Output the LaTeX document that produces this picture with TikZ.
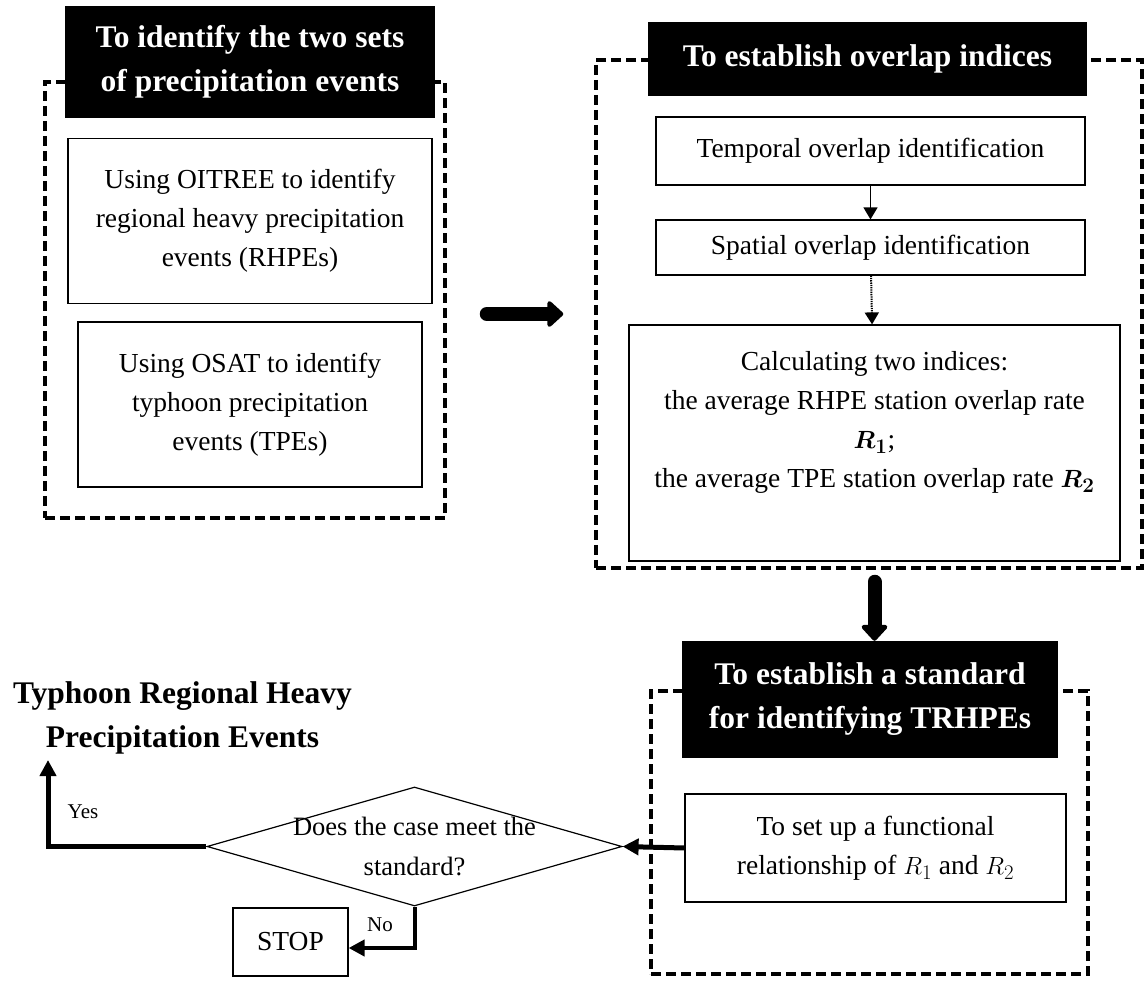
\documentclass[tikz,border=0pt]{standalone}
\usepackage{fontspec}
\setmainfont{Liberation Serif}
\usepackage{amsmath}
\usetikzlibrary{
  positioning,
  arrows.meta,
  shapes.geometric
}

\begin{document}
\begin{tikzpicture}[
  x=1pt, y=-1pt,
  frame/.style={draw, line width=3.5pt, dash pattern=on 10pt off 5pt, inner sep=0pt},
  head/.style={fill=black, text=white, align=center, inner sep=0pt,
               font=\fontsize{31.5}{44}\selectfont\bfseries},
  box/.style={draw, line width=1.2pt, align=center, inner sep=0pt,
              font=\fontsize{27.5}{39}\selectfont},
  bigarrow/.style={line width=14pt, line cap=round, -{Triangle[length=17pt,width=30pt,round]}},
  link/.style={line width=1.3pt, -{Triangle[length=12pt,width=14pt]}},
  flow/.style={line width=5pt, -{Triangle[length=16pt,width=16pt]}}
]
  \useasboundingbox (0,0) rectangle (1144,981);

  % identify the two sets
  \node[frame, minimum width=400pt, minimum height=436pt] (setA) at (245,300) {};
  \node[head, minimum width=370pt, minimum height=112pt] (headA) at (250,62)
    {To identify the two sets\\of precipitation events};
  \node[box, minimum width=364pt, minimum height=165pt] (rhpe) at (250,221)
    {Using OITREE to identify\\regional heavy precipitation\\events (RHPEs)};
  \node[box, minimum width=344pt, minimum height=165pt] (tpe) at (250,404.5)
    {Using OSAT to identify\\typhoon precipitation\\events (TPEs)};

  % overlap indices
  \node[frame, minimum width=546pt, minimum height=508pt] (setB) at (869,314) {};
  \node[head, minimum width=439pt, minimum height=74pt] (headB) at (867.5,59)
    {To establish overlap indices};
  \node[box, minimum width=429pt, minimum height=68pt] (temporal) at (870.5,151)
    {Temporal overlap identification};
  \node[box, minimum width=429pt, minimum height=55pt] (spatial) at (870.5,247.5)
    {Spatial overlap identification};
  \node[box, minimum width=491pt, minimum height=236pt] (calc) at (874.5,443)
    {Calculating two indices:\\the average RHPE station overlap rate\\$\boldsymbol{R_1}$;\\
     the average TPE station overlap rate $\boldsymbol{R_2}$\\[8pt]};

  % standard
  \node[frame, minimum width=437pt, minimum height=283pt] (setC) at (869.5,832.5) {};
  \node[head, minimum width=376pt, minimum height=117pt] (headC) at (870,699.5)
    {To establish a standard\\for identifying TRHPEs};
  \node[box, minimum width=381pt, minimum height=108pt] (func) at (875.5,848)
    {To set up a functional\\relationship of $R_1$ and $R_2$};

  % decision
  \node[diamond, draw, line width=1.2pt, inner sep=0pt, minimum width=415pt,
        minimum height=119pt] (decide) at (414.5,846.5) {};
  \node[align=center, font=\fontsize{26.5}{40}\selectfont] (ask) at (decide.center)
    {Does the case meet the\\standard?};
  \node[box, minimum width=115pt, minimum height=68pt] (stop) at (290.5,942) {STOP};
  \node[align=center, font=\fontsize{31.5}{44}\selectfont\bfseries, anchor=south] (trhpe)
    at (182.5,758) {Typhoon Regional Heavy\\Precipitation Events};
  \coordinate (yesend) at (48,760);
  \node[font=\fontsize{21}{24}\selectfont] (yes) at (83,812) {Yes};
  \node[font=\fontsize{21}{24}\selectfont] (no) at (380,925) {No};

  \draw[bigarrow, shorten <=40pt, shorten >=31pt] (setB.west -| setA.east) -- (setB.west);
  \draw[bigarrow, shorten <=12pt] (calc.south |- setB.south) -- (calc.south |- headC.north);
  \draw[link] (temporal) -- (spatial);
  \draw[link, densely dotted, line width=2pt] (spatial) -- (calc);
  \draw[flow] (func.west) -- (decide.east);
  \draw[flow] (decide.west) -| (yesend);
  \draw[flow, line width=4pt] (decide.south) |- ([yshift=-6pt]stop.east);
\end{tikzpicture}
\end{document}
